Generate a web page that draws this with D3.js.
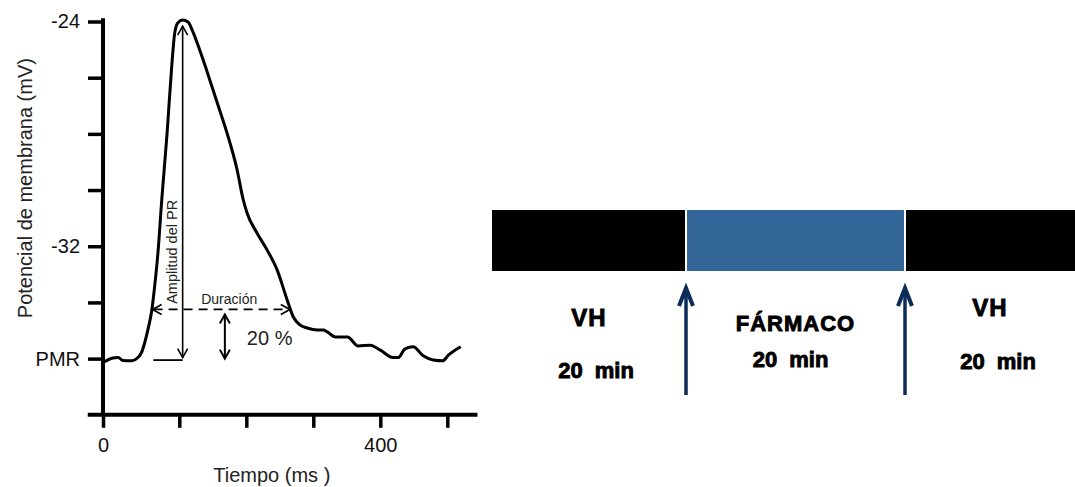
<!DOCTYPE html>
<html lang="es">
<head>
<meta charset="utf-8">
<script src="https://cdn.jsdelivr.net/npm/d3@7"></script>
<style>
  html, body { margin: 0; padding: 0; background: #fff; }
  svg { display: block; font-family: "Liberation Sans", Arial, sans-serif; }
</style>
</head>
<body>
<svg id="chart" width="1075" height="487"></svg>
<script>
// ---- Potencial de reposo: trazo del potencial de membrana ----
const timeMs = [0, 13, 20, 26, 38, 45, 51, 55, 59, 64, 67, 72, 77, 84, 90, 94, 98, 105, 113, 120,
  131, 141, 156, 171, 186, 195, 201, 216, 231, 246, 261, 270, 280, 291, 306, 315, 321, 333, 351, 367,
  385, 400, 419, 427, 437, 449, 464, 479, 493, 502, 520];
const potentialMv = [-36.14, -35.98, -35.96, -36.07, -36.08, -35.98, -35.75, -35.40, -34.95, -34.27,
  -33.60, -32.24, -30.35, -27.97, -25.62, -24.41, -24.05, -23.95, -24.02, -24.35,
  -25.05, -25.75, -26.85, -27.95, -29.25, -30.30, -30.81, -31.53, -32.13, -32.84,
  -33.91, -34.51, -34.80, -34.91, -34.98, -34.98, -35.05, -35.23, -35.23, -35.55,
  -35.52, -35.70, -35.96, -35.96, -35.65, -35.58, -35.90, -36.05, -36.08, -35.87, -35.58];

// Ejes
const xTickValues = [0, 100, 200, 300, 400, 500];
const xTickLabels = ["0", "", "", "", "400", ""];
const yTickValues = [-24, -26, -28, -30, -32, -34, -36];
const yTickLabels = ["-24", "", "", "", "-32", "", "PMR"];

// Mediciones sobre el trazo
const restMv = -36;            // PMR
const peakMv = -23.95;         // pico
const peakTimeMs = 105;
const durationLevelMv = -34.25; // nivel al que se mide la duración
const durationStartMs = 65;
const durationEndMs = 265;
const percentArrowMs = 168;
const restMarkStartMs = 66;

// ---- Protocolo experimental ----
const phases = ["VH", "FÁRMACO", "VH"];
const phaseMinutes = [20, 20, 20];
const phaseDurationLabels = ["20 min", "20 min", "20 min"];
const phaseFill = ["#000000", "#336699", "#000000"];

const svg = d3.select("#chart");

// ---------- Panel izquierdo ----------
const x = d3.scaleLinear().domain([0, 100, 500]).range([103, 179.3, 447.3]);
const y = d3.scaleLinear().domain([-38, -24]).range([414.8, 21.5]);

const left = svg.append("g");

// eje Y
const yAxis = d3.axisLeft(y)
  .tickValues(yTickValues)
  .tickFormat((d, i) => yTickLabels[i])
  .tickSize(15)
  .tickSizeOuter(0)
  .tickPadding(8);
const gy = left.append("g").attr("transform", `translate(${x(0)},0)`).call(yAxis);
gy.select(".domain").remove();
gy.selectAll(".tick line").attr("stroke", "#000").attr("stroke-width", 3.5);
gy.selectAll(".tick text").attr("font-size", 20).attr("fill", "#111")
  .attr("font-family", "Liberation Sans, Arial, sans-serif");
left.append("line")
  .attr("x1", x(0)).attr("x2", x(0))
  .attr("y1", y(-23.88)).attr("y2", y(-38))
  .attr("stroke", "#000").attr("stroke-width", 4);

// eje X
const xAxis = d3.axisBottom(x)
  .tickValues(xTickValues)
  .tickFormat((d, i) => xTickLabels[i])
  .tickSize(13)
  .tickSizeOuter(0)
  .tickPadding(10);
const gx = left.append("g").attr("transform", `translate(0,${y(-38)})`).call(xAxis);
gx.select(".domain").remove();
gx.selectAll(".tick line").attr("stroke", "#000").attr("stroke-width", 3.5);
gx.selectAll(".tick text").attr("font-size", 20).attr("fill", "#111")
  .attr("font-family", "Liberation Sans, Arial, sans-serif");
left.append("line")
  .attr("x1", x(-20)).attr("x2", x(545))
  .attr("y1", y(-38)).attr("y2", y(-38))
  .attr("stroke", "#000").attr("stroke-width", 4);

// títulos de ejes
left.append("text")
  .attr("x", x(250) - 8).attr("y", 482)
  .attr("text-anchor", "middle").attr("font-size", 20).attr("fill", "#222")
  .text("Tiempo (ms )");
left.append("text")
  .attr("transform", `translate(32,${(y(-24) + y(-38)) / 2 - 30}) rotate(-90)`)
  .attr("text-anchor", "middle").attr("font-size", 20).attr("fill", "#222")
  .text("Potencial de membrana (mV)");

// trazo
const line = d3.line()
  .x((d, i) => x(timeMs[i]))
  .y(d => y(d))
  .curve(d3.curveMonotoneX);
left.append("path")
  .datum(potentialMv)
  .attr("d", line)
  .attr("fill", "none")
  .attr("stroke", "#000")
  .attr("stroke-width", 3)
  .attr("stroke-linejoin", "round");

// puntas de flecha abiertas
function chevron(g, px, py, dir, size, half, width) {
  let d;
  if (dir === "up") d = `M${px - half},${py + size}L${px},${py}L${px + half},${py + size}`;
  if (dir === "down") d = `M${px - half},${py - size}L${px},${py}L${px + half},${py - size}`;
  if (dir === "left") d = `M${px + size},${py - half}L${px},${py}L${px + size},${py + half}`;
  if (dir === "right") d = `M${px - size},${py - half}L${px},${py}L${px - size},${py + half}`;
  g.append("path").attr("d", d).attr("fill", "none").attr("stroke", "#000")
    .attr("stroke-width", width).attr("stroke-linejoin", "miter");
}

// amplitud del PR
const ax = x(peakTimeMs);
const aTop = y(peakMv) + 6;
const aBot = y(restMv) - 1;
left.append("line").attr("x1", ax).attr("x2", ax).attr("y1", aTop).attr("y2", aBot)
  .attr("stroke", "#000").attr("stroke-width", 1.6);
chevron(left, ax, aTop, "up", 9, 5, 1.6);
chevron(left, ax, aBot, "down", 9, 5, 1.6);
left.append("line")
  .attr("x1", x(restMarkStartMs)).attr("x2", ax)
  .attr("y1", y(restMv) + 1.5).attr("y2", y(restMv) + 1.5)
  .attr("stroke", "#000").attr("stroke-width", 1.8);
left.append("text")
  .attr("transform", `translate(${ax - 6},${(aTop + aBot) / 2 + 60}) rotate(-90)`)
  .attr("text-anchor", "middle").attr("font-size", 14.5).attr("fill", "#222")
  .text("Amplitud del PR");

// duración
const dy = y(durationLevelMv);
left.append("line")
  .attr("x1", x(durationStartMs) + 1).attr("x2", x(durationEndMs) - 1)
  .attr("y1", dy).attr("y2", dy)
  .attr("stroke", "#000").attr("stroke-width", 1.7)
  .attr("stroke-dasharray", "9,6");
chevron(left, x(durationStartMs), dy, "left", 9, 5, 1.7);
chevron(left, x(durationEndMs), dy, "right", 9, 5, 1.7);
left.append("text")
  .attr("x", (x(durationStartMs) + x(durationEndMs)) / 2 + 8).attr("y", dy - 5)
  .attr("text-anchor", "middle").attr("font-size", 14).attr("fill", "#222")
  .text("Duración");

// 20 %
const px = x(percentArrowMs);
const pTop = dy + 5;
const pBot = y(restMv);
left.append("line").attr("x1", px).attr("x2", px).attr("y1", pTop).attr("y2", pBot)
  .attr("stroke", "#000").attr("stroke-width", 2);
chevron(left, px, pTop, "up", 9, 5, 2);
chevron(left, px, pBot, "down", 9, 5, 2);
left.append("text")
  .attr("x", px + 22).attr("y", (pTop + pBot) / 2 + 8)
  .attr("font-size", 20).attr("fill", "#222")
  .text("20 %");

// ---------- Panel derecho: protocolo ----------
const bounds = [0];
phaseMinutes.forEach(m => bounds.push(bounds[bounds.length - 1] + m));
const t = d3.scaleLinear().domain(bounds).range([492, 686, 905, 1075]);

const right = svg.append("g");
const barTop = 210, barH = 61;

right.selectAll("rect.phase")
  .data(phases)
  .join("rect")
  .attr("class", "phase")
  .attr("x", (d, i) => t(bounds[i]))
  .attr("width", (d, i) => t(bounds[i + 1]) - t(bounds[i]))
  .attr("y", barTop).attr("height", barH)
  .attr("fill", (d, i) => phaseFill[i]);

// separaciones blancas entre fases
right.selectAll("line.sep")
  .data(bounds.slice(1, -1))
  .join("line")
  .attr("class", "sep")
  .attr("x1", d => t(d)).attr("x2", d => t(d))
  .attr("y1", barTop).attr("y2", barTop + barH)
  .attr("stroke", "#fff").attr("stroke-width", 2);

// flechas de cambio de solución
const arrowColor = "#0b2c56";
bounds.slice(1, -1).forEach(b => {
  const ax2 = t(b);
  right.append("line")
    .attr("x1", ax2).attr("x2", ax2).attr("y1", 290).attr("y2", 395)
    .attr("stroke", arrowColor).attr("stroke-width", 3.5);
  right.append("path")
    .attr("d", `M${ax2 - 7},${306}L${ax2},${288}L${ax2 + 7},${306}`)
    .attr("fill", "none").attr("stroke", arrowColor)
    .attr("stroke-width", 4).attr("stroke-linejoin", "miter");
});

// rótulos
const nameBaseline = [326, 331, 316];
const nameSize = [24, 22, 24];
const nameSpacing = [1, 1, 1];
const durBaseline = [378, 367, 369];
const durShift = [7, -5, 8];
phases.forEach((p, i) => {
  const cx = (t(bounds[i]) + t(bounds[i + 1])) / 2;
  right.append("text")
    .attr("x", cx).attr("y", nameBaseline[i])
    .attr("text-anchor", "middle")
    .attr("font-size", nameSize[i]).attr("font-weight", "bold")
    .attr("letter-spacing", nameSpacing[i])
    .attr("fill", "#000").attr("stroke", "#000").attr("stroke-width", 0.9)
    .text(p);
  right.append("text")
    .attr("x", cx + durShift[i]).attr("y", durBaseline[i])
    .attr("text-anchor", "middle")
    .attr("font-size", 22).attr("font-weight", "bold")
    .attr("word-spacing", 6)
    .attr("fill", "#000").attr("stroke", "#000").attr("stroke-width", 0.9)
    .text(phaseDurationLabels[i]);
});
</script>
</body>
</html>
